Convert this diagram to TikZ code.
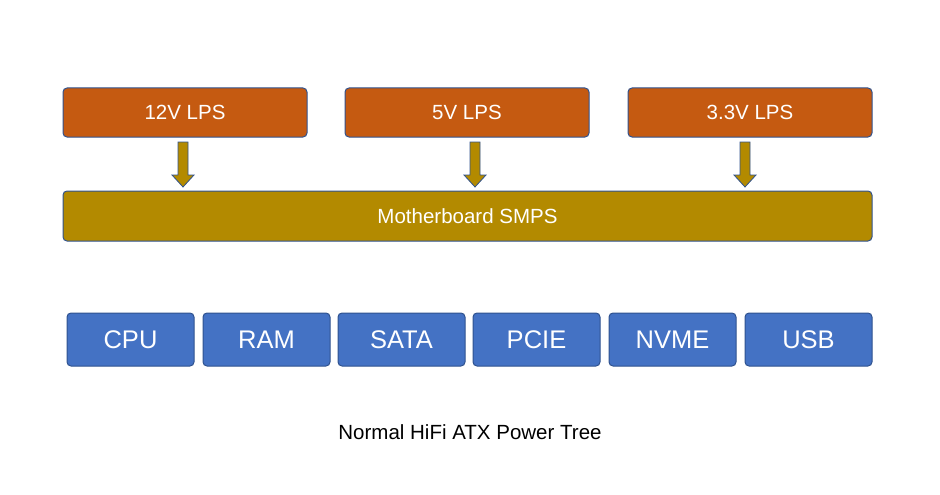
\documentclass[tikz,border=0pt]{standalone}
\usepackage{fontspec}
\setmainfont{Liberation Sans}
\begin{document}
\begin{tikzpicture}[x=1pt,y=-1pt,
  box/.style={draw=bord,line width=1pt,rounded corners=4pt,text=white,inner sep=0pt},
  lps/.style={box,fill=lpsc,minimum width=244pt,minimum height=49pt,font=\fontsize{20.5}{23}\selectfont},
  load/.style={box,fill=loadc,minimum width=127pt,minimum height=53pt,font=\fontsize{25.5}{28}\selectfont},
  barrow/.style={fill=gold,draw=bord,line width=0.8pt}]
\definecolor{bord}{HTML}{2F528F}
\definecolor{lpsc}{HTML}{C55A11}
\definecolor{gold}{HTML}{B38A00}
\definecolor{loadc}{HTML}{4472C4}
\useasboundingbox (0,0) rectangle (940,495);
\node[lps] (a) at (185,112.5) {12V LPS};
\node[lps] (b) at (467,112.5) {5V LPS};
\node[lps] (c) at (750,112.5) {3.3V LPS};
\node[box,fill=gold,minimum width=809pt,minimum height=50pt,font=\fontsize{20.5}{23}\selectfont] (m) at (467.5,216) {Motherboard SMPS};
\foreach \x in {183,475,745}{
  \draw[barrow] (\x-5,142) -- (\x+5,142) -- (\x+5,175) -- (\x+11,175) -- (\x,187) -- (\x-11,175) -- (\x-5,175) -- cycle;
}
\node[load] (cpu) at (130.5,339.5) {CPU};
\node[load] (ram) at (266.5,339.5) {RAM};
\node[load] (sata) at (401.5,339.5) {SATA};
\node[load] (pcie) at (536.5,339.5) {PCIE};
\node[load] (nvme) at (672.5,339.5) {NVME};
\node[load] (usb) at (808.5,339.5) {USB};
\node[font=\fontsize{20.5}{23}\selectfont] (cap) at (470,432) {Normal HiFi ATX Power Tree};
\end{tikzpicture}
\end{document}
